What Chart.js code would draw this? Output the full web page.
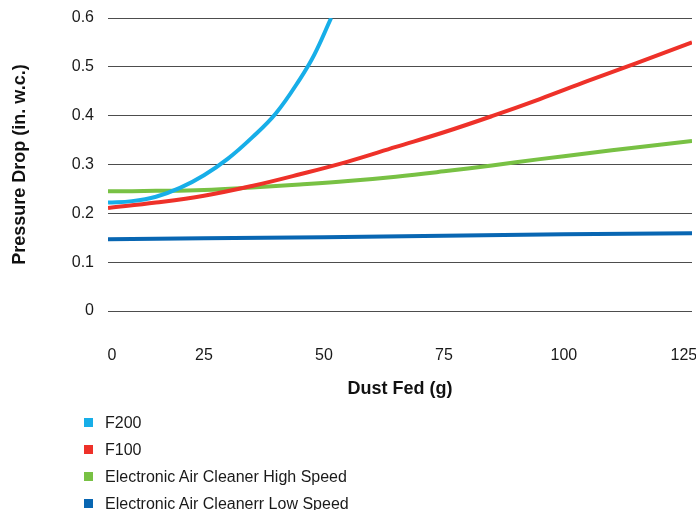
<!DOCTYPE html>
<html><head><meta charset="utf-8">
<script src="https://cdn.jsdelivr.net/npm/chart.js@4"></script>
<style>
html,body{margin:0;padding:0;background:#fff;}
#wrap{position:relative;width:696px;height:510px;overflow:hidden;}
#box{position:absolute;left:0;top:0;width:696px;height:410px;}
#legend{position:absolute;left:84px;top:409px;font:16px "Liberation Sans",Arial,sans-serif;color:#1a1a1a;}
.item{height:27px;line-height:27px;display:flex;align-items:center;white-space:nowrap;}
.sw{width:9px;height:9px;margin-right:12px;flex:none;}
</style></head><body>
<div id="wrap"><div id="box"><canvas id="c"></canvas></div><div id="legend"></div></div>
<script>
const seriesNames = ["F200", "F100", "Electronic Air Cleaner High Speed", "Electronic Air Cleanerr Low Speed"];
const seriesColors = ["#17aee8", "#ee3129", "#78c144", "#0866b2"];

const f200X = [5, 10, 15, 20, 25, 30, 35, 40, 45, 48, 51.5];
const f200Y = [0.222, 0.225, 0.234, 0.252, 0.278, 0.312, 0.355, 0.405, 0.475, 0.525, 0.600];

const f100X = [5, 15, 25, 35, 45, 55, 65, 75, 85, 95, 105, 115, 126.7];
const f100Y = [0.211, 0.222, 0.236, 0.256, 0.280, 0.306, 0.336, 0.366, 0.399, 0.434, 0.471, 0.507, 0.550];

const eacHighX = [5, 15, 25, 35, 45, 55, 65, 75, 85, 95, 105, 115, 126.7];
const eacHighY = [0.245, 0.246, 0.248, 0.253, 0.259, 0.266, 0.275, 0.286, 0.298, 0.311, 0.323, 0.335, 0.348];

const eacLowX = [5, 25, 50, 75, 100, 126.7];
const eacLowY = [0.147, 0.149, 0.151, 0.154, 0.157, 0.159];

const xTickValues = [0, 25, 50, 75, 100, 125];
const yTickValues = [0, 0.1, 0.2, 0.3, 0.4, 0.5, 0.6];
const xMin = 5, xMax = 126.7;

const xs = [f200X, f100X, eacHighX, eacLowX];
const ys = [f200Y, f100Y, eacHighY, eacLowY];

const FONT = '"Liberation Sans", Arial, Helvetica, sans-serif';

const datasets = seriesNames.map((n, i) => ({
  label: n,
  data: xs[i].map((x, j) => ({x: x, y: ys[i][j]})),
  borderColor: seriesColors[i],
  backgroundColor: seriesColors[i],
  borderWidth: 4,
  pointRadius: 0,
  fill: false,
  tension: 0.4
}));

const chart = new Chart(document.getElementById('c'), {
  type: 'line',
  data: {datasets},
  options: {
    responsive: true,
    maintainAspectRatio: false,
    animation: false,
    layout: {padding: {top: 18, right: 4, left: 0, bottom: 0}},
    plugins: {legend: {display: false}, tooltip: {enabled: false}},
    scales: {
      x: {
        type: 'linear',
        min: xMin, max: xMax,
        grid: {display: false, drawTicks: false},
        border: {display: false},
        afterBuildTicks: (s) => {
          s.ticks = xTickValues.map(v => ({value: v < xMin ? xMin + 0.8 : v}));
        },
        ticks: {
          font: {family: FONT, size: 16}, color: '#1a1a1a', padding: 35,
          maxRotation: 0, autoSkip: false,
          callback: function(v, i) { return String(xTickValues[i]); }
        },
        title: {display: true, text: 'Dust Fed (g)', font: {family: FONT, size: 18, weight: 'bold'}, color: '#111', padding: {top: 0, bottom: 10}},
        afterFit: (s) => { s.height = 99; s.paddingLeft = 0; s.paddingRight = 0; }
      },
      y: {
        min: 0, max: 0.6,
        afterBuildTicks: (s) => { s.ticks = yTickValues.map(v => ({value: v})); },
        grid: {color: '#4d4d4d', lineWidth: 1, drawTicks: false},
        border: {display: false},
        ticks: {font: {family: FONT, size: 16}, color: '#1a1a1a', padding: 14,
          callback: (v) => String(Math.round(v * 10) / 10)},
        title: {display: true, text: 'Pressure Drop (in. w.c.)', font: {family: FONT, size: 18, weight: 'bold'}, color: '#111', padding: {top: 9, bottom: 0}},
        afterFit: (s) => { s.width = 108; s.paddingTop = 0; s.paddingBottom = 0; }
      }
    }
  }
});

const leg = document.getElementById('legend');
chart.data.datasets.forEach(ds => {
  const it = document.createElement('div'); it.className = 'item';
  const sw = document.createElement('span'); sw.className = 'sw'; sw.style.background = ds.borderColor;
  const tx = document.createElement('span'); tx.textContent = ds.label;
  it.appendChild(sw); it.appendChild(tx); leg.appendChild(it);
});
</script>
</body></html>
